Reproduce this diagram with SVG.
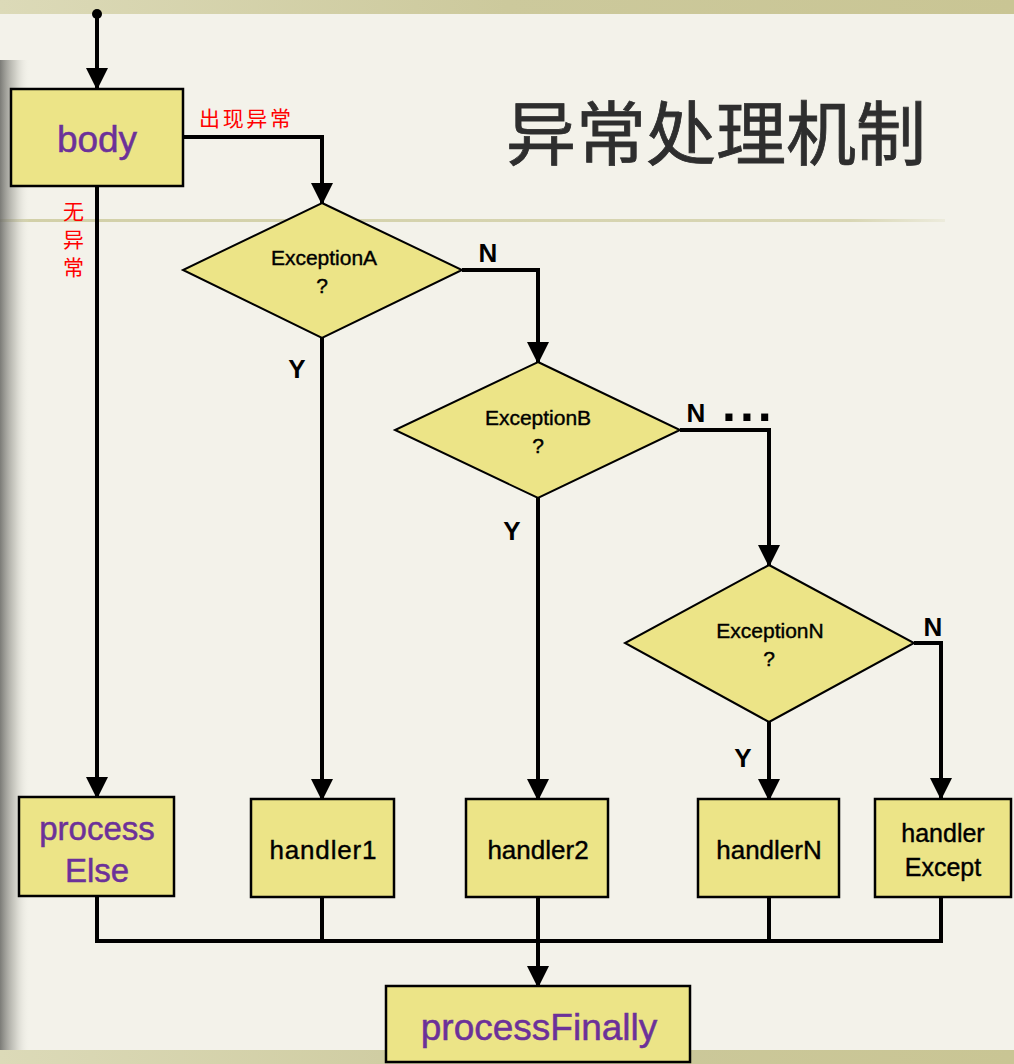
<svg xmlns="http://www.w3.org/2000/svg" width="1014" height="1064" viewBox="0 0 1014 1064">
<defs>
<style>
.box{fill:#ece487;stroke:#000;stroke-width:2.5}
.dia{fill:#ece487;stroke:#000;stroke-width:2}
.ln{fill:none;stroke:#000;stroke-width:4}
.arr{fill:none;stroke:#000;stroke-width:4;marker-end:url(#ah)}
.pu{font-family:"Liberation Sans",Arial,sans-serif;fill:#6c3199;stroke:#6c3199;stroke-width:0.5;text-anchor:middle}
.bk{font-family:"Liberation Sans",Arial,sans-serif;fill:#000;stroke:#000;stroke-width:0.4;text-anchor:middle}
.yn{font-family:"Liberation Sans",Arial,sans-serif;font-weight:bold;font-size:26px;fill:#000;text-anchor:middle}
.dots{font-family:"Liberation Sans",Arial,sans-serif;font-weight:bold;font-size:50px;letter-spacing:4px;fill:#000}
.red{font-family:"Noto Sans CJK SC",sans-serif;fill:#ff0000;font-size:21px}
</style>
<marker id="ah" markerUnits="userSpaceOnUse" markerWidth="22" markerHeight="22" viewBox="0 0 22 22" refX="20" refY="11" orient="auto">
<path d="M0,0 L22,11 L0,22 Z" fill="#000"/>
</marker>
<linearGradient id="shadow" x1="0" y1="0" x2="1" y2="0">
<stop offset="0" stop-color="#6e6e6a" stop-opacity="0.9"/>
<stop offset="0.5" stop-color="#a8a8a0" stop-opacity="0.5"/>
<stop offset="1" stop-color="#f2f1e9" stop-opacity="0"/>
</linearGradient>
<linearGradient id="topband" x1="0" y1="0" x2="1" y2="0">
<stop offset="0" stop-color="#dcdab8"/>
<stop offset="0.5" stop-color="#ccc99c"/>
<stop offset="1" stop-color="#c9c594"/>
</linearGradient>
<linearGradient id="rule" x1="0" y1="0" x2="1" y2="0">
<stop offset="0" stop-color="#d2d0a8"/>
<stop offset="0.9" stop-color="#d8d6b4"/>
<stop offset="1" stop-color="#ecebdc"/>
</linearGradient>
</defs>
<rect x="0" y="0" width="1014" height="1064" fill="#f3f2ea"/>
<rect x="0" y="0" width="1014" height="14" fill="url(#topband)"/>
<rect x="0" y="1050" width="1014" height="14" fill="url(#topband)"/>
<rect x="0" y="219" width="945" height="3" fill="url(#rule)"/>
<rect x="0" y="60" width="30" height="990" fill="url(#shadow)"/>
<text x="716" y="160" font-family="'Noto Sans CJK SC',sans-serif" font-size="70" fill="#2e2e2e" stroke="#2e2e2e" stroke-width="0.8" text-anchor="middle">异常处理机制</text>

<g id="connectors">
<circle cx="97" cy="14" r="5" fill="#000"/>
<line class="arr" x1="97" y1="14" x2="97" y2="88"/>
<polyline class="arr" points="183,137 322,137 322,203"/>
<line class="arr" x1="97" y1="186" x2="97" y2="797"/>
<polyline class="arr" points="462,270 538,270 538,362"/>
<line class="arr" x1="322" y1="338" x2="322" y2="799"/>
<polyline class="arr" points="680,430 769,430 769,565"/>
<line class="arr" x1="538" y1="498" x2="538" y2="799"/>
<polyline class="arr" points="914,643 941,643 941,798"/>
<line class="arr" x1="769" y1="722" x2="769" y2="799"/>
<polyline class="ln" points="97,896 97,941 941,941 941,897"/>
<line class="ln" x1="322" y1="897" x2="322" y2="941"/>
<line class="ln" x1="769" y1="897" x2="769" y2="941"/>
<line class="arr" x1="538" y1="897" x2="538" y2="986"/>
<text class="red" x="199" y="126" textLength="92">出现异常</text>
<text class="red" x="63" y="219">无</text>
<text class="red" x="63" y="247">异</text>
<text class="red" x="63" y="275">常</text>
<text class="yn" x="488" y="262">N</text>
<text class="yn" x="297" y="378">Y</text>
<text class="yn" x="696" y="422">N</text>
<text class="dots" x="722" y="421">...</text>
<text class="yn" x="512" y="540">Y</text>
<text class="yn" x="933" y="636">N</text>
<text class="yn" x="743" y="767">Y</text>
</g>

<g id="body">
<rect class="box" x="11" y="89" width="172" height="97"/>
<text class="pu" x="97" y="152" font-size="37">body</text>
</g>
<g id="exceptionA">
<polygon class="dia" points="322,203 462,270 322,338 183,270"/>
<text class="bk" x="324" y="265" font-size="21">ExceptionA</text>
<text class="bk" x="322" y="293" font-size="21">?</text>
</g>
<g id="exceptionB">
<polygon class="dia" points="538,362 680,430 538,498 395,430"/>
<text class="bk" x="538" y="425" font-size="21">ExceptionB</text>
<text class="bk" x="538" y="453" font-size="21">?</text>
</g>
<g id="exceptionN">
<polygon class="dia" points="769,565 914,643 769,722 625,643"/>
<text class="bk" x="770" y="638" font-size="21">ExceptionN</text>
<text class="bk" x="769" y="666" font-size="21">?</text>
</g>
<g id="processElse">
<rect class="box" x="19" y="797" width="155" height="99"/>
<text class="pu" x="97" y="840" font-size="33">process</text>
<text class="pu" x="97" y="882" font-size="33">Else</text>
</g>
<g id="handler1">
<rect class="box" x="251" y="799" width="143" height="98"/>
<text class="bk" x="323" y="859" font-size="26" textLength="107">handler1</text>
</g>
<g id="handler2">
<rect class="box" x="466" y="799" width="142" height="98"/>
<text class="bk" x="538" y="859" font-size="26">handler2</text>
</g>
<g id="handlerN">
<rect class="box" x="698" y="799" width="141" height="98"/>
<text class="bk" x="769" y="859" font-size="26">handlerN</text>
</g>
<g id="handlerExcept">
<rect class="box" x="875" y="799" width="136" height="98"/>
<text class="bk" x="943" y="842" font-size="25">handler</text>
<text class="bk" x="943" y="876" font-size="25">Except</text>
</g>
<g id="processFinally">
<rect class="box" x="386" y="986" width="304" height="76"/>
<text class="pu" x="539" y="1040" font-size="37">processFinally</text>
</g>
</svg>
